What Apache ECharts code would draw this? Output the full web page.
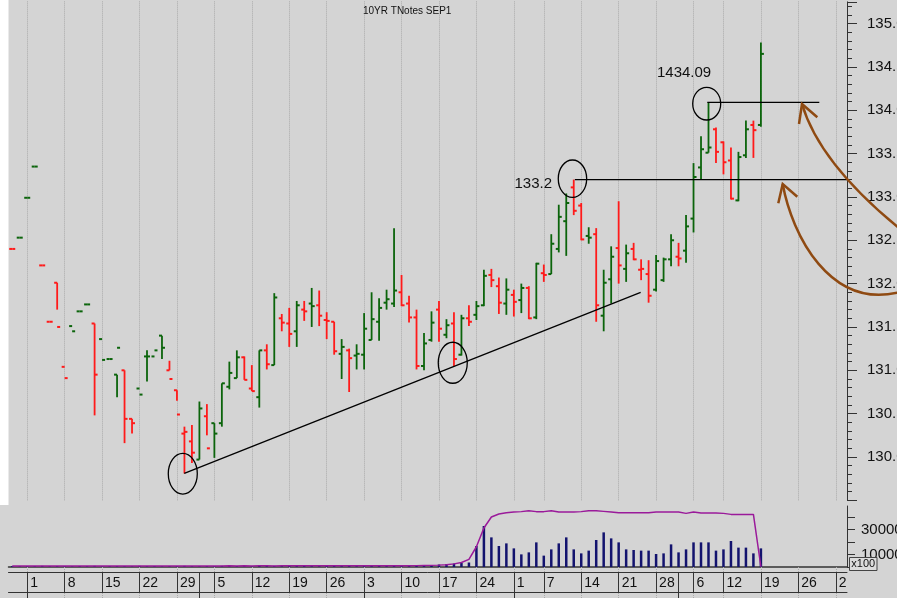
<!DOCTYPE html>
<html>
<head>
<meta charset="utf-8">
<script src="https://cdn.jsdelivr.net/npm/echarts@6/dist/echarts.min.js"></script>
<style>
  html, body { margin: 0; padding: 0; background: #d4d4d4; }
  #main { width: 897px; height: 598px; }
</style>
</head>
<body>
<div id="main"></div>
<script>
// trading days, month by month
const monthDays = [
  ['09', [27, 28]],
  ['10', [1,2,3,4,5,8,9,10,11,12,15,16,17,18,19,22,23,24,25,26,29,30,31]],
  ['11', [1,2,5,6,7,8,9,12,13,14,15,16,19,20,21,22,23,26,27,28,29,30]],
  ['12', [3,4,5,6,7,10,11,12,13,14,17,18,19,20,21,24,26,27,28,31]],
  ['01', [1,2,3,4,7,8,9,10,11,14,15,16,17,18,21,22,23,24,25,28,29,30]],
  ['02', [2,3,6,7,8,9,12,13,14,15,16,19,20,21,22,23,26,27,28,29,30]],
  ['03', [2,3]]
];
const weekStarts = [2,7,12,17,22,27,32,37,42,47,52,57,62,67,71,76,81,86,91,95,100,105,110];
const monthStarts = [2,25,47,67,89];

// OHLC (null = no high/low printed)
const opens = [
  132.40,132.53,132.99,133.35,132.21,131.56,132.01,131.04,131.51,131.68,
  131.76,131.54,131.36,131.13,130.95,131.00,130.44,130.79,131.16,131.16,
  131.40,131.00,130.77,130.27,130.18,129.97,130.47,130.39,130.39,130.81,
  130.91,131.15,130.79,130.69,131.23,131.06,131.60,131.54,131.45,131.70,
  131.77,131.75,131.58,131.56,131.19,131.23,131.17,131.18,131.35,131.56,
  131.78,131.77,131.90,131.77,131.61,131.05,131.35,131.70,131.41,131.54,
  131.18,131.60,131.64,131.75,132.10,131.97,131.77,131.87,131.81,131.95,
  131.61,132.12,132.11,132.40,132.72,133.11,132.90,132.55,132.57,131.63,
  132.05,132.41,132.17,132.40,132.16,132.11,131.93,132.04,132.28,132.31,
  132.38,132.75,133.34,133.51,133.78,133.63,133.42,132.96,133.48,133.83,133.83
];
const highs = [
  null,null,null,null,null,null,132.01,null,null,null,
  null,131.54,null,null,130.95,131.00,130.44,null,131.23,null,
  131.40,131.11,130.77,130.35,130.37,130.64,130.61,130.39,130.85,131.10,
  131.23,131.16,131.06,131.23,131.30,131.89,131.65,131.72,131.80,131.80,
  131.95,131.92,131.67,131.56,131.36,131.25,131.30,131.66,131.90,131.83,
  131.93,132.64,132.10,131.86,131.70,131.43,131.68,131.80,131.59,131.67,
  131.64,131.75,131.80,132.16,132.17,132.07,132.06,131.93,132.00,131.97,
  132.24,132.22,132.57,132.91,133.04,133.20,132.93,132.65,132.64,132.16,
  132.43,132.95,132.45,132.47,132.28,132.27,132.33,132.30,132.57,132.47,
  132.79,133.39,133.70,134.09,133.80,133.64,133.57,133.52,133.88,133.88,134.78
];
const lows = [
  null,null,null,null,null,null,131.70,null,null,null,
  null,130.48,null,null,130.69,130.16,130.27,null,130.87,null,
  131.13,131.00,130.65,129.81,129.93,129.97,130.25,129.99,130.35,130.78,
  130.91,130.89,130.76,130.57,131.01,131.06,131.45,131.27,131.27,131.57,
  131.50,131.51,131.36,131.18,130.90,130.75,131.01,131.01,131.35,131.34,
  131.70,131.73,131.74,131.55,131.01,131.00,131.33,131.33,131.37,131.05,
  131.17,131.51,131.58,131.74,131.96,131.65,131.64,131.62,131.66,131.59,
  131.59,132.02,132.11,132.36,132.32,132.79,132.50,132.46,131.56,131.45,
  131.77,132.00,132.02,132.27,132.04,131.78,131.91,132.02,132.20,132.20,
  132.24,132.59,133.20,133.51,133.39,133.26,132.97,132.95,133.45,133.45,133.81
];
const closes = [
  132.40,132.53,132.99,133.35,132.21,131.56,131.50,130.91,131.45,131.68,
  131.76,130.95,131.12,131.13,131.26,130.44,130.39,130.72,131.16,131.23,
  131.26,130.90,130.49,130.29,130.05,130.56,130.10,130.27,130.85,130.97,
  131.15,130.89,130.76,131.23,131.07,131.84,131.55,131.42,131.75,131.68,
  131.74,131.63,131.57,131.22,131.27,131.14,131.19,131.48,131.59,131.72,
  131.82,131.92,131.75,131.61,131.05,131.31,131.55,131.48,131.52,131.13,
  131.60,131.56,131.74,132.09,132.04,131.78,131.93,131.79,131.95,131.60,
  132.23,132.10,132.46,132.77,132.93,132.84,132.51,132.53,131.75,132.01,
  132.31,132.21,132.35,132.28,132.17,131.86,132.26,132.28,132.50,132.29,
  132.66,133.23,133.55,133.57,133.52,133.40,132.98,133.46,133.78,133.77,134.65
];
// volume and open interest (x100)
const volumes = [
  700,600,800,700,900,600,800,700,600,800,
  700,900,600,700,800,700,600,900,700,800,
  600,700,800,900,700,600,800,700,900,700,
  800,600,700,800,700,900,600,800,700,800,
  700,600,900,800,700,800,600,700,900,800,
  700,800,900,1100,1000,1200,1500,2000,2400,2800,
  3200,3600,16800,32800,23700,16800,18900,14900,10100,11700,
  19700,9100,14100,18900,23700,14100,10900,13100,21600,27700,
  22900,19700,14100,13600,13100,13100,10400,10900,18100,11700,
  14100,19700,19700,19700,13100,14100,20800,15500,15500,10900,14900
];
const openInt = [
  850,860,850,870,860,850,880,870,860,870,
  880,870,860,880,870,880,890,880,870,880,
  890,880,890,900,890,880,900,890,900,910,
  900,910,900,920,910,900,920,910,920,930,
  920,930,920,940,930,940,930,950,940,950,
  960,950,970,1000,1100,1200,1300,1500,1800,2500,
  3600,6100,16200,31200,40000,42400,43400,44000,44300,45000,
  44300,44300,45000,44000,44000,44000,44300,45000,45000,44500,
  44000,43400,43400,43400,43400,43400,44000,44000,44000,44000,
  42900,44000,43200,43200,43200,42900,42100,42100,42100,42100,200
];

const UP = '#0b640b';
const DOWN = '#ff1a1a';
const FONT = 'Liberation Sans, Arial, sans-serif';

let cats = [];
monthDays.forEach(m => m[1].forEach(d => cats.push(m[0] + '-' + (d < 10 ? '0' + d : d))));

const isWeek = (i) => weekStarts.indexOf(i) >= 0;
const isMonth = (i) => monthStarts.indexOf(i) >= 0;

let ohlc = opens.map((o, i) => [i, o, highs[i], lows[i], closes[i]]);

function renderOhlc(params, api) {
  const i = api.value(0);
  const o = api.value(1), h = api.value(2), l = api.value(3), c = api.value(4);
  const prev = i > 0 ? closes[i - 1] : c;
  const color = c > prev ? UP : DOWN;
  const kids = [];
  const pc = api.coord([i, c]);
  const po = api.coord([i, o]);
  const x = pc[0];
  if (Number.isFinite(h) && Number.isFinite(l)) {
    const ph = api.coord([i, h]), pl = api.coord([i, l]);
    kids.push({ type: 'line', shape: { x1: x, y1: ph[1], x2: x, y2: pl[1] }, style: { stroke: color, lineWidth: 1.8 } });
  }
  kids.push({ type: 'line', shape: { x1: x - 3, y1: po[1], x2: x, y2: po[1] }, style: { stroke: color, lineWidth: 2 } });
  kids.push({ type: 'line', shape: { x1: x, y1: pc[1], x2: x + 3, y2: pc[1] }, style: { stroke: color, lineWidth: 2 } });
  return { type: 'group', children: kids };
}

const dotted = { color: '#a9a9a9', type: 'dotted', width: 1 };
const dark = '#333';

const option = {
  animation: false,
  backgroundColor: '#d4d4d4',
  title: {
    text: '10YR TNotes SEP1', left: 363, top: 6, padding: 0,
    textStyle: { fontFamily: FONT, fontSize: 10, fontWeight: 'normal', color: '#111' }
  },
  grid: [
    { left: 8.5, width: 838.5, top: 1.85, height: 498.5, containLabel: false, outerBoundsMode: 'none' },
    { left: 8.5, width: 838.5, top: 506, height: 61, containLabel: false, outerBoundsMode: 'none' }
  ],
  xAxis: [
    { gridIndex: 0, type: 'category', data: cats, boundaryGap: true,
      axisLine: { show: false }, axisLabel: { show: false }, splitLine: { show: false },
      axisTick: { show: true, inside: true, alignWithLabel: true, length: 499, interval: isWeek, lineStyle: dotted } },
    { gridIndex: 1, type: 'category', data: cats, boundaryGap: true, position: 'top',
      axisLine: { show: true, lineStyle: { color: dark, width: 1.5 } }, axisLabel: { show: false },
      axisTick: { show: true, inside: true, alignWithLabel: true, length: 61, interval: isWeek, lineStyle: dotted } },
    { gridIndex: 1, type: 'category', data: cats, boundaryGap: true, position: 'bottom', offset: 5.7,
      axisLine: { show: true, lineStyle: { color: dark, width: 1 } },
      axisTick: { show: true, alignWithLabel: true, length: 20, interval: isWeek, lineStyle: { color: dark } },
      axisLabel: { show: true, interval: isWeek, align: 'left', margin: 3, padding: [0, 0, 0, 3],
        fontFamily: FONT, fontSize: 14, color: '#111',
        formatter: (v) => String(parseInt(v.slice(3), 10)) } },
    { gridIndex: 1, type: 'category', data: cats, boundaryGap: true, position: 'bottom', offset: 5.7,
      axisLine: { show: false }, axisLabel: { show: false },
      axisTick: { show: true, alignWithLabel: true, length: 25.3, interval: isMonth, lineStyle: { color: dark } } },
    { gridIndex: 1, type: 'category', data: cats, boundaryGap: true, position: 'bottom', offset: 25.7,
      axisLine: { show: true, lineStyle: { color: dark, width: 1 } }, axisLabel: { show: false },
      axisTick: { show: false } }
  ],
  yAxis: [
    { gridIndex: 0, type: 'value', position: 'right', min: 129.5, max: 135.25, interval: 0.5,
      axisLine: { show: true, lineStyle: { color: dark } },
      axisTick: { show: true, length: 10, lineStyle: { color: dark } },
      minorTick: { show: true, splitNumber: 5, length: 5, lineStyle: { color: dark } },
      splitLine: { show: false },
      axisLabel: { margin: 20, fontFamily: FONT, fontSize: 15, color: '#111', showMinLabel: false, showMaxLabel: false,
        formatter: (v) => v.toFixed(1) } },
    { gridIndex: 1, type: 'value', position: 'right', min: 0, max: 48800, interval: 10000,
      axisLine: { show: true, lineStyle: { color: dark } },
      axisTick: { show: true, length: 8, lineStyle: { color: dark } },
      splitLine: { show: false },
      axisLabel: { margin: 14, fontFamily: FONT, fontSize: 15, color: '#111', showMaxLabel: false,
        formatter: (v) => (v === 10000 || v === 30000) ? String(v) : '' } }
  ],
  series: [
    { type: 'custom', xAxisIndex: 0, yAxisIndex: 0, renderItem: renderOhlc, data: ohlc,
      encode: { x: 0, y: [1, 2, 3, 4] }, z: 3 },
    { type: 'bar', xAxisIndex: 2, yAxisIndex: 1, data: volumes, barWidth: 2.5,
      itemStyle: { color: '#13136e' }, z: 3 },
    { type: 'line', xAxisIndex: 2, yAxisIndex: 1, data: openInt, symbol: 'none',
      lineStyle: { color: '#9a1a9a', width: 1.5 }, z: 4 }
  ]
};

const chart = echarts.init(document.getElementById('main'));
chart.setOption(option);

// annotation helpers: fractional category index -> pixel
function pt(i, p) {
  const a = chart.convertToPixel({ gridIndex: 0 }, [0, p]);
  const b = chart.convertToPixel({ gridIndex: 0 }, [1, p]);
  return [a[0] + i * (b[0] - a[0]), a[1]];
}

const circles = [
  [22.78, 129.807, 14.5, 20.3],
  [58.84, 131.087, 14.5, 20.5],
  [74.83, 133.21, 14.2, 18.7],
  [92.76, 134.075, 14, 16.3]
];
const segs = [
  [[22.98, 129.812], [83.94, 131.90]],
  [[75.15, 133.20], [111.5, 133.20]],
  [[92.84, 134.09], [107.8, 134.09]]
];
const notes = [
  ['133.2', 72.1, 133.149, 'right'],
  ['1434.09', 86.12, 134.429, 'left']
];

const brown = '#8f4a12';
const g = [];
g.push({ type: 'rect', shape: { x: 0, y: 0, width: 8.5, height: 505 }, style: { fill: '#ffffff' }, z: 1 });
circles.forEach(c => {
  const p = pt(c[0], c[1]);
  g.push({ type: 'ellipse', shape: { cx: p[0], cy: p[1], rx: c[2], ry: c[3] },
    style: { fill: null, stroke: '#000', lineWidth: 1.3 }, z: 10 });
});
segs.forEach(s => {
  const a = pt(s[0][0], s[0][1]), b = pt(s[1][0], s[1][1]);
  g.push({ type: 'line', shape: { x1: a[0], y1: a[1], x2: b[0], y2: b[1] },
    style: { stroke: '#000', lineWidth: 1.3 }, z: 10 });
});
notes.forEach(n => {
  const p = pt(n[1], n[2]);
  g.push({ type: 'text', x: p[0], y: p[1], z: 10,
    style: { text: n[0], font: '15px ' + FONT, fill: '#111', align: n[3], verticalAlign: 'middle',
      textAlign: n[3], textVerticalAlign: 'middle' } });
});
// hand-drawn arrows
g.push({ type: 'bezierCurve', shape: { x1: 905, y1: 233, cpx1: 820, cpy1: 165, x2: 802, y2: 104 },
  style: { stroke: brown, lineWidth: 2.5, fill: null }, z: 11 });
g.push({ type: 'polyline', shape: { points: [[799, 124], [802, 104], [817.3, 117.3]] },
  style: { stroke: brown, lineWidth: 2.5, fill: null }, z: 11 });
g.push({ type: 'bezierCurve', shape: { x1: 782.7, y1: 184, cpx1: 792, cpy1: 235, cpx2: 830, cpy2: 310, x2: 900, y2: 292 },
  style: { stroke: brown, lineWidth: 2.5, fill: null }, z: 11 });
g.push({ type: 'polyline', shape: { points: [[778.3, 203.3], [782.7, 184], [797.3, 196.7]] },
  style: { stroke: brown, lineWidth: 2.5, fill: null }, z: 11 });
// x100 box
g.push({ type: 'rect', shape: { x: 849.5, y: 557.5, width: 27.5, height: 13 },
  style: { fill: '#dcdcdc', stroke: '#444', lineWidth: 1 }, z: 12 });
g.push({ type: 'text', x: 863.2, y: 564.2, z: 13,
  style: { text: 'x100', font: '11px ' + FONT, fill: '#111', align: 'center', verticalAlign: 'middle',
    textAlign: 'center', textVerticalAlign: 'middle' } });

chart.setOption({ graphic: g });
</script>
</body>
</html>
